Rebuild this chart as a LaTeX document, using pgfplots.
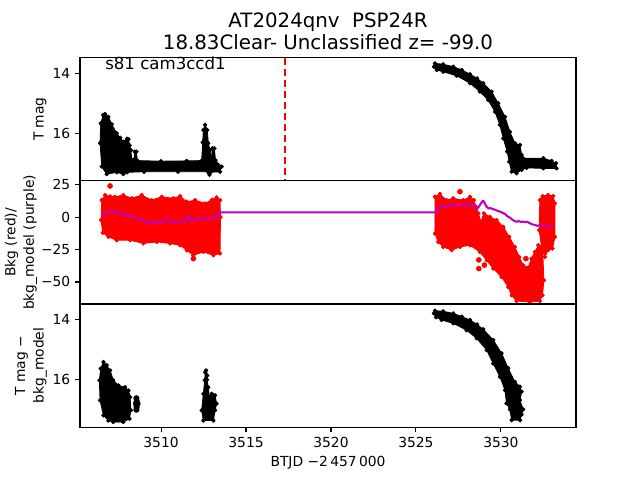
\documentclass[border=0pt]{standalone}
\usepackage{fontspec}
\setmainfont{DejaVu Sans}
\usepackage{pgfplots}
\pgfplotsset{compat=1.18}
\definecolor{mpurple}{rgb}{0.75,0,0.75}
\begin{document}
\begin{tikzpicture}[x=1in,y=1in]
\useasboundingbox (0,0) rectangle (6.4,4.8);
\pgfplotsset{
  panel/.style={
    scale only axis, width=4.96in, height=1.232in, anchor=south west,
    xmin=3505.23, xmax=3534.42, clip mode=individual,
    axis line style={line width=0.8pt},
    tick style={black, line width=0.8pt},
    major tick length=3.5pt, tick align=outside, tick pos=left,
    tick label style={font=\fontsize{10}{12}\selectfont},
    /pgf/number format/assume math mode=true,
  },
  blk/.style={black, fill=black, line width=0.6pt, mark=*, mark size=1.3pt, line join=round},
  redp/.style={red, fill=red, line width=0.6pt, mark=*, mark size=1.3pt, mark options={fill=red}, line join=round},
}
% ---------------- Panel 1 ----------------
\begin{axis}[panel, at={(0.8in,2.992in)},
  y dir=reverse, ymin=13.477, ymax=17.583,
  xtick=\empty, ytick={14,16}, yticklabels={14,16}]
\addplot[blk] coordinates {
(3506.60,15.39) (3506.70,15.36) (3506.90,15.45) (3507.10,15.70) (3507.39,16.00)
(3507.60,16.15) (3507.78,16.28) (3508.00,16.18) (3508.08,16.20) (3508.15,16.40)
(3508.22,16.56) (3508.28,16.89) (3508.40,16.89) (3508.45,16.61) (3508.55,16.61)
(3508.60,16.91) (3510.00,16.93) (3511.50,16.92) (3512.39,16.91) (3512.45,16.30)
(3512.49,15.89) (3512.59,15.72) (3512.72,15.89) (3512.78,16.33) (3512.88,16.56)
(3512.95,16.90) (3513.02,16.50) (3513.14,16.50) (3513.20,16.90) (3513.57,17.11)
(3513.47,17.28) (3512.90,17.30) (3512.85,17.38) (3512.75,17.28) (3511.00,17.28)
(3509.00,17.28) (3508.00,17.30) (3507.78,17.36) (3507.40,17.30) (3506.80,17.36)
(3506.51,17.11) (3506.41,16.33) (3506.45,15.67)
} -- cycle;
\addplot[blk] coordinates {
(3526.06,13.78) (3526.12,13.67) (3526.60,13.70) (3527.20,13.78) (3527.70,13.89)
(3528.18,14.03) (3528.60,14.17) (3528.96,14.33) (3529.45,14.61) (3529.84,15.00)
(3530.24,15.45) (3530.53,15.95) (3530.82,16.33) (3531.12,16.39) (3531.22,16.72)
(3531.30,16.83) (3532.50,16.83) (3532.98,16.92) (3533.24,17.00) (3533.28,17.17)
(3532.50,17.17) (3531.51,17.15) (3531.22,17.22) (3530.92,17.33) (3530.63,17.28)
(3530.49,16.95) (3530.37,16.61) (3530.14,16.17) (3529.94,15.72) (3529.65,15.28)
(3529.25,14.89) (3528.76,14.61) (3528.18,14.33) (3527.39,14.08) (3526.61,13.95)
(3526.22,13.89)
} -- cycle;
\addplot[red, line width=1.5pt, dash pattern=on 5.55pt off 2.4pt] coordinates {(3517.29,13.477) (3517.29,17.583)};
\node[anchor=base west, inner sep=0pt, font=\fontsize{12}{14}\selectfont] at (axis cs:3506.70,13.89) {s81 cam3ccd1};
\node[anchor=base, font=\fontsize{14.3}{17}\selectfont] at (rel axis cs:0.5,1) [yshift=22pt] {AT2024qnv~~PSP24R};
\node[anchor=base, font=\fontsize{14.3}{17}\selectfont] at (rel axis cs:0.5,1) [yshift=6.2pt] {18.83Clear- Unclassified z= -99.0};
\node[rotate=90, anchor=center, font=\fontsize{10}{12}\selectfont] at (rel axis cs:-0.0806,0.5) {T mag};
\end{axis}
% ---------------- Panel 2 ----------------
\begin{axis}[panel, at={(0.8in,1.76in)},
  ymin=-67, ymax=28,
  xtick=\empty, ytick={25,0,-25,-50}, yticklabels={25,0,−25,−50}]
\addplot[redp] coordinates {
(3506.51,13.1) (3506.71,17.0) (3507.00,16.0) (3507.29,15.7) (3507.78,17.0)
(3508.28,14.5) (3508.86,17.0) (3509.45,13.1) (3510.04,15.7) (3510.72,14.5)
(3511.12,16.2) (3511.51,11.8) (3512.00,13.1) (3512.59,10.6) (3513.00,13.5)
(3513.27,15.2) (3513.47,13.1) (3513.50,0) (3513.47,-28.1) (3513.08,-29.4)
(3512.49,-26.8) (3511.90,-29.4) (3511.51,-25.5) (3511.12,-21.7) (3510.53,-20.3)
(3509.75,-19.1) (3508.96,-20.3) (3508.18,-17.8) (3507.39,-17.8) (3506.90,-15.2)
(3506.57,-12.1) (3506.47,-2.3)
} -- cycle;
\addplot[redp] coordinates {
(3526.12,15.7) (3526.41,17.8) (3526.80,13.1) (3527.20,14.5) (3527.78,13.1)
(3528.18,15.7) (3528.41,13.1) (3528.53,8.0) (3528.67,2.9) (3528.82,-3.6)
(3529.00,2.9) (3529.35,0.2) (3529.75,-2.3) (3530.14,-7.5) (3530.49,-15.2)
(3530.82,-23.0) (3531.08,-30.7) (3531.31,-37.1) (3531.61,-38.9) (3531.80,-32.0)
(3532.00,-26.8) (3532.20,-21.7) (3532.45,-23.0) (3532.53,-48.7) (3532.45,-60.3)
(3532.29,-64.7) (3531.71,-65.5) (3530.92,-64.7) (3530.63,-60.3) (3530.43,-53.9)
(3530.04,-46.2) (3529.55,-39.7) (3529.16,-33.3) (3528.76,-26.8) (3528.18,-21.7)
(3527.59,-23.0) (3527.10,-25.5) (3526.61,-23.0) (3526.31,-19.1) (3526.12,-12.6)
} -- cycle;
\addplot[redp] coordinates {
(3532.29,13.1) (3532.45,16.2) (3532.78,17.0) (3533.08,16.2) (3533.18,10.6)
(3533.18,-15.2) (3533.04,-24.2) (3532.78,-25.5) (3532.59,-30.7) (3532.39,-23.0)
(3532.25,-10.1)
} -- cycle;
\addplot[only marks, mark=*, mark size=1.8pt, red] coordinates {
(3507.0,24.0) (3511.9,-32.0) (3527.59,19.6) (3528.70,-33.0) (3528.70,-39.7)
(3529.03,-37.0) (3531.47,-32.0)
};
\addplot[mpurple, line width=1.5pt] coordinates {
(3506.51,1.5) (3506.62,2.6) (3506.74,3.0) (3506.86,3.9) (3506.98,3.6) (3507.10,4.6)
(3507.22,3.9) (3507.34,4.2) (3507.46,3.2) (3507.58,3.4) (3507.70,2.5) (3507.82,2.7)
(3507.94,1.6) (3508.08,1.0) (3508.20,1.2) (3508.32,0.2) (3508.44,-0.4) (3508.56,-0.1)
(3508.68,-1.2) (3508.80,-1.9) (3508.92,-2.2) (3509.06,-3.6) (3509.18,-3.2) (3509.30,-4.5)
(3509.45,-4.9) (3509.58,-4.0) (3509.70,-4.6) (3509.82,-3.4) (3509.94,-4.2) (3510.04,-3.6)
(3510.16,-2.4) (3510.26,-1.3) (3510.33,-1.5) (3510.45,-2.8) (3510.58,-3.2) (3510.70,-4.3)
(3510.82,-4.1) (3510.94,-3.2) (3511.06,-3.8) (3511.18,-2.9) (3511.30,-3.5) (3511.41,-3.1)
(3511.52,-0.5) (3511.61,1.0) (3511.70,-1.8) (3511.80,-3.6) (3511.92,-2.2) (3512.04,-1.6)
(3512.20,-1.0) (3512.32,-1.8) (3512.44,-0.9) (3512.56,-1.4) (3512.68,-0.6) (3512.80,-1.2)
(3512.92,-0.4) (3513.05,-1.0) (3513.18,-0.5) (3513.30,-0.2) (3513.41,3.6)
(3526.23,3.6) (3526.33,8.0) (3526.45,7.6) (3526.57,8.4) (3526.69,8.1) (3526.81,8.9)
(3526.93,8.3) (3527.05,8.8) (3527.17,9.1) (3527.31,9.3) (3527.43,8.7) (3527.55,9.4)
(3527.67,9.0) (3527.79,9.7) (3527.91,9.3) (3528.03,10.1) (3528.17,9.6) (3528.29,9.8)
(3528.40,8.5) (3528.50,7.0) (3528.59,6.2) (3528.70,8.0) (3528.82,10.5) (3528.92,12.3)
(3528.98,12.3) (3529.06,10.5) (3529.16,8.0) (3529.28,6.7) (3529.40,6.9) (3529.52,6.2)
(3529.64,5.8) (3529.76,5.0) (3529.88,4.6) (3530.00,3.9) (3530.12,3.2) (3530.24,2.4)
(3530.34,1.2) (3530.43,0.2) (3530.55,-0.5) (3530.65,-1.8) (3530.75,-2.6) (3530.82,-3.1)
(3530.94,-3.6) (3531.06,-3.0) (3531.18,-3.8) (3531.30,-3.4) (3531.42,-3.9) (3531.55,-3.6)
(3531.66,-4.5) (3531.78,-5.2) (3531.90,-5.8) (3532.02,-6.1) (3532.14,-6.7) (3532.26,-6.3)
(3532.38,-7.1) (3532.50,-6.6) (3532.62,-7.0) (3532.74,-6.4) (3532.86,-6.9) (3532.98,-6.7)
(3533.06,-6.2)
};
\node[rotate=90, anchor=center, align=center, font=\fontsize{10}{13.3}\selectfont] at (rel axis cs:-0.119,0.5) {Bkg (red)/\\bkg\_model (purple)};
\end{axis}
% ---------------- Panel 3 ----------------
\begin{axis}[panel, at={(0.8in,0.528in)},
  y dir=reverse, ymin=13.477, ymax=17.583,
  xtick={3510,3515,3520,3525,3530}, xticklabels={3510,3515,3520,3525,3530},
  ytick={14,16}, yticklabels={14,16}]
\addplot[blk] coordinates {
(3506.61,15.41) (3506.80,15.52) (3507.00,15.69) (3507.19,16.02) (3507.49,16.19)
(3507.88,16.25) (3508.08,16.36) (3508.18,16.58) (3508.22,17.02) (3508.14,17.30)
(3507.78,17.41) (3507.19,17.41) (3506.90,17.36) (3506.61,17.19) (3506.41,16.69)
(3506.37,16.02) (3506.45,15.63)
} -- cycle;
\addplot[only marks, mark=*, mark size=2.0pt, black] coordinates {
(3508.55,16.62) (3508.57,16.72) (3508.58,16.82) (3508.56,16.92) (3508.55,17.0)
(3508.52,16.8) (3508.62,16.8)
};
\addplot[blk] coordinates {
(3512.65,15.69) (3512.72,15.86) (3512.70,16.00) (3512.78,16.25) (3512.84,16.58)
(3512.98,16.47) (3513.18,16.52) (3513.27,16.80) (3513.18,17.02) (3513.08,17.36)
(3512.49,17.36) (3512.39,17.02) (3512.49,16.47) (3512.57,16.02) (3512.60,15.75)
} -- cycle;
\addplot[blk] coordinates {
(3526.06,13.79) (3526.12,13.70) (3526.60,13.72) (3527.20,13.79) (3527.70,13.90)
(3528.18,14.01) (3528.60,14.16) (3528.96,14.32) (3529.55,14.68) (3530.04,15.12)
(3530.43,15.62) (3530.82,16.07) (3531.12,16.23) (3531.22,16.40) (3531.12,16.68)
(3531.31,16.99) (3531.22,17.16) (3531.12,17.35) (3530.63,17.35) (3530.53,16.99)
(3530.33,16.79) (3530.24,16.35) (3529.94,15.90) (3529.55,15.46) (3529.16,15.01)
(3528.57,14.62) (3527.98,14.35) (3527.20,14.12) (3526.51,14.01) (3526.18,13.92)
} -- cycle;
\node[rotate=90, anchor=center, align=center, font=\fontsize{10}{13.3}\selectfont] at (rel axis cs:-0.0988,0.5) {T mag −\\bkg\_model};
\node[anchor=base, font=\fontsize{10}{12}\selectfont] at (rel axis cs:0.5,0) [yshift=-28.4pt] {BTJD −2\,457\,000};
\end{axis}
\end{tikzpicture}
\end{document}
